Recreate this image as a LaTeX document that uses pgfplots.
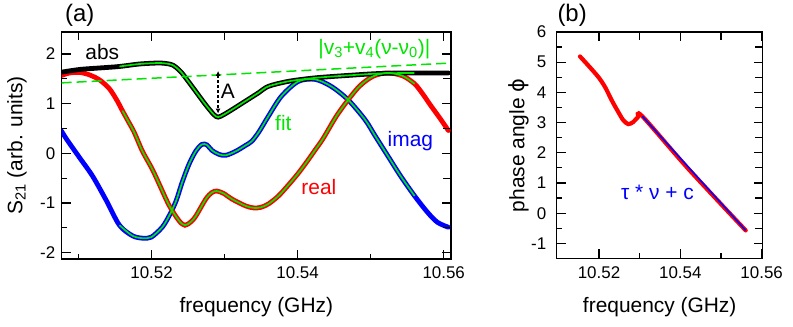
\documentclass[border=0pt]{standalone}
\usepackage{fontspec}
\setmainfont{Liberation Sans}
\newfontfamily\dejavu{DejaVu Sans}
\usepackage{pgfplots}
\usepackage{pgfplotstable}
\pgfplotsset{compat=1.18}
\usetikzlibrary{arrows.meta}
\definecolor{fitgreen}{RGB}{0,230,0}
\newcommand\tkf{\fontsize{17}{17}\selectfont}
\newcommand\lab{\fontsize{21}{25}\selectfont}
\tikzset{tk/.style={black, line width=1.2bp}}

\pgfplotstableread{
x y
10.50744 1.63
10.51016 1.69
10.51288 1.72
10.51561 1.75
10.51833 1.80
10.52105 1.82
10.52241 1.80
10.52300 1.77
10.52354 1.71
10.52410 1.63
10.52468 1.52
10.52604 1.25
10.52740 0.98
10.52853 0.78
10.52912 0.73
10.52989 0.78
10.53102 0.88
10.53284 1.05
10.53465 1.22
10.53601 1.35
10.53873 1.45
10.54237 1.52
10.54690 1.57
10.55143 1.61
10.55597 1.62
10.56064 1.62
}\absdata

\pgfplotstableread{
x y
10.50767 1.57
10.50880 1.62
10.51016 1.63
10.51152 1.58
10.51288 1.48
10.51424 1.30
10.51533 1.05
10.51601 0.86
10.51683 0.64
10.51764 0.42
10.51873 0.05
10.52010 -0.32
10.52105 -0.62
10.52241 -1.05
10.52377 -1.36
10.52458 -1.45
10.52540 -1.38
10.52608 -1.26
10.52744 -0.92
10.52826 -0.79
10.52894 -0.76
10.52989 -0.81
10.53098 -0.92
10.53288 -1.06
10.53397 -1.10
10.53493 -1.09
10.53601 -1.02
10.53737 -0.86
10.53873 -0.64
10.54010 -0.40
10.54146 -0.13
10.54241 0.07
10.54350 0.30
10.54554 0.80
10.54826 1.32
10.55030 1.55
10.55234 1.62
10.55439 1.56
10.55602 1.40
10.55711 1.20
10.55819 0.97
10.55942 0.72
10.56064 0.46
}\realdata

\pgfplotstableread{
x y
10.50767 0.45
10.50839 0.28
10.51016 -0.09
10.51193 -0.46
10.51384 -0.96
10.51561 -1.45
10.51737 -1.66
10.51873 -1.71
10.51996 -1.69
10.52146 -1.49
10.52241 -1.26
10.52336 -0.96
10.52418 -0.59
10.52513 -0.22
10.52608 0.05
10.52690 0.18
10.52758 0.17
10.52826 0.06
10.52921 -0.02
10.53016 -0.04
10.53152 0.04
10.53288 0.16
10.53370 0.24
10.53465 0.42
10.53601 0.75
10.53778 1.15
10.54010 1.45
10.54241 1.49
10.54459 1.35
10.54690 1.08
10.54922 0.68
10.55058 0.36
10.55234 -0.05
10.55411 -0.46
10.55602 -0.86
10.55779 -1.19
10.55914 -1.39
10.56064 -1.49
}\imagdata

\pgfplotstableread{
x y
10.5077 1.42
10.5610 1.82
}\bgdata

\pgfplotstableread{
x y
10.51533 5.19
10.51737 4.89
10.51983 4.51
10.52148 4.18
10.52312 3.74
10.52474 3.35
10.52597 3.08
10.52720 2.95
10.52843 3.02
10.52951 3.17
10.53065 3.21
10.54195 1.47
10.55607 -0.57
}\phasedata

\pgfplotstableread{
x y
10.53065 3.21
10.55607 -0.57
}\phasefit

\pgfplotsset{
  base/.style={
    scale only axis, anchor=south west,
    axis line style={line width=1.3bp},
    every tick/.style={black, line width=1.2bp},
    tick align=inside,
    major tick length=9bp, minor tick length=5bp,
    tick label style={font=\tkf},
    xticklabel style={yshift=-4.5bp},
    yticklabel style={xshift=-3bp},
    every axis x label/.style={at={(axis description cs:0.5,0)}, anchor=center, yshift=-48.5bp, font=\lab},
    scaled ticks=false,
  },
}

\begin{document}
\begin{tikzpicture}
\useasboundingbox (0,0) rectangle (793bp,327bp);

% ---------- panel (a) ----------
\begin{axis}[base, at={(61.7bp,68bp)}, width=389.3bp, height=227bp,
  xmin=10.5077, xmax=10.5610, ymin=-2.13, ymax=2.445,
  xtick={10.52,10.54,10.56}, xticklabels={10.52,10.54,10.56},
  minor xtick={10.51,10.53,10.55},
  ytick={-2,-1,0,1,2}, yticklabels={-2,-1,0,1,2},
  minor ytick={-1.5,-0.5,0.5,1.5},
  xlabel={frequency (GHz)},
  ylabel={S\textsubscript{21} (arb. units)},
  every axis y label/.style={at={(axis description cs:-0.1148,0.5)}, anchor=center, rotate=90, font=\lab},
  ]
  \addplot[blue, line width=4.8bp, smooth, line cap=round] table {\imagdata};
  \addplot[red, line width=4.8bp, smooth, line cap=round] table {\realdata};
  \addplot[black, line width=4.8bp, smooth, line cap=round] table {\absdata};
  \addplot[fitgreen, line width=1.7bp, smooth, restrict x to domain=10.5155:10.5561] table {\imagdata};
  \addplot[fitgreen, line width=1.7bp, smooth, restrict x to domain=10.5155:10.5561] table {\realdata};
  \addplot[fitgreen, line width=1.7bp, smooth, restrict x to domain=10.5155:10.5561] table {\absdata};
  \addplot[fitgreen, line width=1.5bp, dash pattern=on 10bp off 5bp] table {\bgdata};
  \draw[black, line width=1.2bp, dash pattern=on 3bp off 2bp,
        {Latex[length=5bp,width=5bp]}-{Latex[length=5bp,width=5bp]}]
        (axis cs:10.52911,1.66) -- (axis cs:10.52911,0.80);
  \node[anchor=base, font=\lab] at (axis cs:10.51325,1.89) {abs};
  \node[anchor=base, font=\lab, text=fitgreen] at (axis cs:10.53805,0.455) {fit};
  \node[anchor=base, font=\lab, text=blue] at (axis cs:10.55544,0.137) {imag};
  \node[anchor=base, font=\lab, text=red] at (axis cs:10.54291,-0.84) {real};
  \node[anchor=base, font=\lab] at (axis cs:10.53044,1.095) {A};
  \node[anchor=base, font=\lab, text=fitgreen] at (axis cs:10.5505,1.99)
     {|v\textsubscript{3}+v\textsubscript{4}(ν-ν\textsubscript{0})|};
  % tick marks
  \pgfplotsinvokeforeach{10.52,10.54,10.56}{\draw[tk] (axis cs:#1,-2.13) -- ++(0bp,9bp);}
  \pgfplotsinvokeforeach{10.51,10.53,10.55}{\draw[tk] (axis cs:#1,-2.13) -- ++(0bp,5bp);}
  \pgfplotsinvokeforeach{10.51,10.52,10.53,10.54,10.55,10.56}{\draw[tk] (axis cs:#1,2.445) -- ++(0bp,-8bp);}
  \pgfplotsinvokeforeach{-2,-1,0,1,2}{\draw[tk] (axis cs:10.5077,#1) -- ++(9bp,0bp);}
  \pgfplotsinvokeforeach{-1.5,-0.5,0.5,1.5}{\draw[tk] (axis cs:10.5077,#1) -- ++(5bp,0bp);}
  \pgfplotsinvokeforeach{-2,-1.5,-1,-0.5,0,0.5,1,1.5,2}{\draw[tk] (axis cs:10.5610,#1) -- ++(-8bp,0bp);}
\end{axis}

% ---------- panel (b) ----------
\begin{axis}[base, at={(556.7bp,68.5bp)}, width=206bp, height=226.5bp,
  xmin=10.5096, xmax=10.56025, ymin=-1.5, ymax=6,
  xtick={10.52,10.54,10.56}, xticklabels={10.52,10.54,10.56},
  minor xtick={10.53,10.55},
  ytick={-1,0,1,2,3,4,5,6}, yticklabels={-1,0,1,2,3,4,5,6},
  minor ytick={-0.5,0.5,1.5,2.5,3.5,4.5,5.5},
  yticklabel style={xshift=-4bp},
  xlabel={frequency (GHz)},
  ylabel={phase angle {\dejavu ϕ}},
  every axis y label/.style={at={(axis description cs:-0.185,0.5)}, anchor=center, rotate=90, font=\lab},
  ]
  \addplot[red, line width=4.2bp, smooth, line cap=round] table {\phasedata};
  \addplot[blue, line width=1.6bp] table {\phasefit};
  \node[anchor=base, font=\lab, text=blue] at (axis cs:10.53438,0.46) {τ * ν + c};
  % tick marks
  \pgfplotsinvokeforeach{10.52,10.54}{\draw[tk] (axis cs:#1,-1.5) -- ++(0bp,9bp);}
  \pgfplotsinvokeforeach{10.53,10.55}{\draw[tk] (axis cs:#1,-1.5) -- ++(0bp,5bp);}
  \pgfplotsinvokeforeach{10.52,10.53,10.54,10.55}{\draw[tk] (axis cs:#1,6) -- ++(0bp,-8bp);}
  \pgfplotsinvokeforeach{-1,0,1,2,3,4,5}{\draw[tk] (axis cs:10.5096,#1) -- ++(9bp,0bp);}
  \pgfplotsinvokeforeach{-0.5,0.5,1.5,2.5,3.5,4.5,5.5}{\draw[tk] (axis cs:10.5096,#1) -- ++(5bp,0bp);}
  \pgfplotsinvokeforeach{-1,-0.5,0,0.5,1,1.5,2,2.5,3,3.5,4,4.5,5,5.5}{\draw[tk] (axis cs:10.56025,#1) -- ++(-8bp,0bp);}
\end{axis}

\node[anchor=base west, font=\fontsize{24}{28}\selectfont] at (61.7bp,305.3bp) {(a)};
\node[anchor=base west, font=\fontsize{24}{28}\selectfont] at (554bp,305.3bp) {(b)};
\end{tikzpicture}
\end{document}
